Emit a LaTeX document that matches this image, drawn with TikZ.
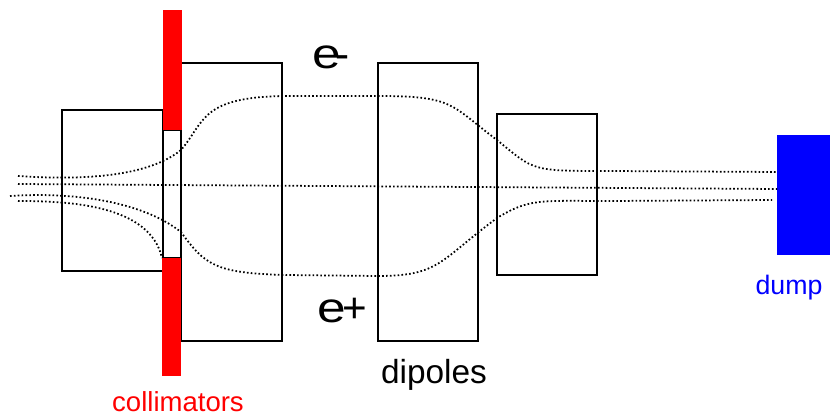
\documentclass[tikz,border=0pt]{standalone}
\usepackage{fontspec}
\setmainfont{Liberation Sans}
\usepackage{xcolor}
\usetikzlibrary{positioning, calc}
\definecolor{ColRed}{HTML}{FF0000}
\definecolor{DumpBlue}{HTML}{0000FF}
\newcommand{\wideE}{\scalebox{1.22}[1]{e}}
\tikzset{
    magnet/.style={draw=black, line width=1.2pt},
    beam/.style={black, line width=1.5pt, dash pattern=on 1.4pt off 1.9pt},
    tag/.style={inner sep=0pt, anchor=base},
    chargetag/.style={inner sep=0pt, anchor=base west, font=\fontsize{36}{36}\selectfont},
}

\begin{document}
\begin{tikzpicture}[x=0.03cm, y=-0.03cm]
    \useasboundingbox (0,0) rectangle (830,419);
    \draw[magnet] (62,110) rectangle (163,271);
    \draw[magnet] (163,130) rectangle (181,258);
    \draw[magnet] (181,63) rectangle (282,341);
    \draw[magnet] (378,63) rectangle (478,341);
    \draw[magnet] (497,114) rectangle (597,275);
    \fill[ColRed] (163,10) rectangle (182,130);
    \fill[ColRed] (162,258) rectangle (181,376);
    \fill[DumpBlue] (777,135) rectangle (830,255);
    \draw[beam] (18,176) .. controls (90,181) and (150,175) .. (181,150) .. controls (205,122) and (200,97) .. (285,96) -- (378,96) .. controls (455,96) and (450,105) .. (497,140) .. controls (535,171) and (530,171) .. (610,171) -- (777,172);
    \draw[beam] (18,184) -- (777,189);
    \draw[beam] (10,196) .. controls (70,192) and (140,200) .. (181,232) .. controls (205,265) and (215,273) .. (285,275) -- (378,276) .. controls (440,276) and (440,260) .. (497,218) .. controls (530,198) and (540,201) .. (610,201) -- (772,200);
    \draw[beam] (18,201) .. controls (70,201) and (150,205) .. (162,258);
    \node[chargetag] (eminus) at (312,68) {\wideE\kern-4.8pt-};
    \node[chargetag] (eplus) at (317,322) {\wideE\kern-3.2pt+};
    \node[tag, font=\fontsize{28.5}{28.5}\selectfont] (dipoles) at (434,383) {dipoles};
    \node[tag, text=ColRed, font=\fontsize{23.5}{23.5}\selectfont] (collimators) at (178,411) {collimators};
    \node[tag, text=DumpBlue, font=\fontsize{22.8}{22.8}\selectfont] (dump) at (789,294) {dump};
\end{tikzpicture}
\end{document}
